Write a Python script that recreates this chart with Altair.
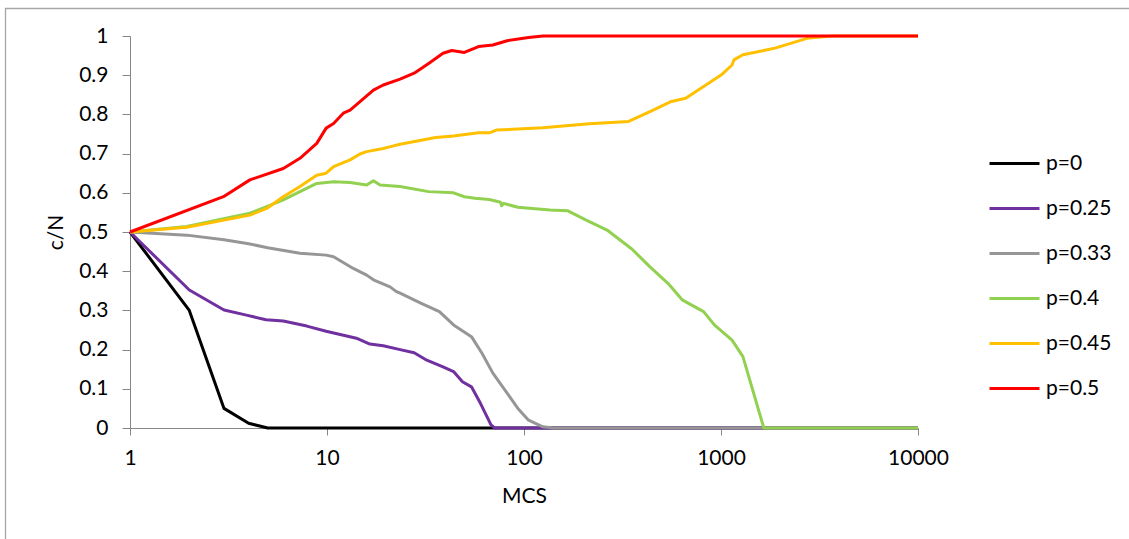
import altair as alt
import pandas as pd

# Series data (x = MCS, y = c/N)
p0_x = [1, 2, 3, 4, 5, 10000]
p0_y = [0.5, 0.3, 0.05, 0.012, 0, 0]

p025_x = [1, 2, 3, 3.9, 4.9, 6, 7.9, 9.9, 14.1, 16.5, 19.3, 23.5, 27.7, 32.1, 38.8,
          43.9, 48.7, 54.1, 60.1, 68, 71, 10000]
p025_y = [0.5, 0.352, 0.301, 0.288, 0.276, 0.273, 0.26, 0.247, 0.229, 0.214, 0.21, 0.2,
          0.192, 0.173, 0.156, 0.144, 0.118, 0.105, 0.063, 0.008, 0, 0]

p033_x = [1, 1.94, 3, 4, 5, 7.29, 9.9, 10.8, 13.6, 15.9, 17.2, 20.9, 22.5, 23.5, 30.1,
          37.2, 43.9, 54.1, 61.3, 69.5, 82.1, 93.1, 105.5, 124.7, 141, 10000]
p033_y = [0.5, 0.492, 0.48, 0.47, 0.46, 0.446, 0.441, 0.437, 0.407, 0.39, 0.378, 0.36,
          0.348, 0.344, 0.318, 0.297, 0.263, 0.233, 0.19, 0.14, 0.089, 0.05, 0.02, 0.003,
          0, 0]

p04_x = [1, 1.94, 4.06, 4.94, 6.0, 7.29, 8.87, 10.8, 13.1, 15.9, 17.2, 18.6, 23.5, 32.8,
         43.9, 49.8, 56.4, 66.7, 76, 77, 78.8, 93.1, 135.5, 167, 205.7, 264, 354, 436, 538,
         635, 816, 925, 1138, 1292, 1464, 1650, 10000]
p04_y = [0.5, 0.514, 0.548, 0.565, 0.582, 0.603, 0.624, 0.628, 0.626, 0.62, 0.631, 0.62,
         0.616, 0.603, 0.6, 0.59, 0.586, 0.583, 0.576, 0.567, 0.573, 0.563, 0.556, 0.554,
         0.531, 0.505, 0.456, 0.411, 0.369, 0.327, 0.297, 0.263, 0.224, 0.182, 0.089,
         0, 0]

p045_x = [1, 1.94, 4.06, 4.94, 6.0, 7.29, 8.87, 9.9, 10.8, 13.1, 14.7, 15.9, 19.3, 21.5,
          23.5, 35.6, 43.9, 58.8, 66.7, 72.4, 124.7, 214.6, 339.6, 436, 560, 662, 816,
          1005, 1138, 1163, 1292, 1880, 2735, 3664, 10000]
p045_y = [0.5, 0.512, 0.543, 0.56, 0.59, 0.616, 0.645, 0.65, 0.667, 0.684, 0.699, 0.705,
          0.713, 0.719, 0.724, 0.741, 0.745, 0.753, 0.753, 0.76, 0.766, 0.776, 0.782,
          0.807, 0.833, 0.841, 0.871, 0.901, 0.926, 0.939, 0.952, 0.969, 0.994, 1.0, 1.0]

p05_x = [1, 2.98, 4.06, 6.0, 7.29, 8.87, 9.9, 10.8, 12.1, 13.1, 17.2, 19.3, 23.5, 27.7,
         32.8, 38.8, 43.0, 49.8, 58.8, 69.5, 82.1, 105.5, 124.7, 10000]
p05_y = [0.5, 0.59, 0.633, 0.662, 0.688, 0.726, 0.765, 0.777, 0.803, 0.811, 0.862, 0.875,
         0.89, 0.905, 0.93, 0.956, 0.963, 0.958, 0.973, 0.977, 0.988, 0.996, 1.0, 1.0]

series_names = ["p=0", "p=0.25", "p=0.33", "p=0.4", "p=0.45", "p=0.5"]
series_colors = ["#000000", "#7030A0", "#969696", "#92D050", "#FFC000", "#FF0000"]
series_data = [(p0_x, p0_y), (p025_x, p025_y), (p033_x, p033_y),
               (p04_x, p04_y), (p045_x, p045_y), (p05_x, p05_y)]

x_ticks = [1, 10, 100, 1000, 10000]
y_ticks = [0, 0.1, 0.2, 0.3, 0.4, 0.5, 0.6, 0.7, 0.8, 0.9, 1]

rows = []
for name, (xs, ys) in zip(series_names, series_data):
    for i, (xv, yv) in enumerate(zip(xs, ys)):
        rows.append({"series": name, "MCS": xv, "cN": yv, "i": i})
df = pd.DataFrame(rows)

FONT = "Lato"
color = alt.Color("series:N",
                  scale=alt.Scale(domain=series_names, range=series_colors),
                  legend=alt.Legend(title=None, orient="none", legendX=858, legendY=101,
                                    symbolType="stroke", symbolSize=2500,
                                    symbolStrokeWidth=3, labelFont=FONT,
                                    labelFontSize=21, labelColor="#000000",
                                    labelOffset=5, rowPadding=8, symbolOpacity=1))

layers = []
# outer chart frame
frame = alt.Chart(pd.DataFrame({"a": [0]})).mark_rect(
    fillOpacity=0, stroke="#A6A6A6", strokeWidth=1.3
).encode(x=alt.value(-124.5), x2=alt.value(1010), y=alt.value(-27.5), y2=alt.value(520))
layers.append(frame)

for k, name in enumerate(series_names):
    layer = alt.Chart(df).transform_filter(alt.datum.series == name).mark_line(
        strokeWidth=3, strokeJoin="round", strokeCap="butt"
    ).encode(
        x=alt.X("MCS:Q", scale=alt.Scale(type="log", domain=[1, 10000], nice=False),
                axis=alt.Axis(title="MCS", values=x_ticks, format="d", grid=False,
                              domainColor="#868686", tickColor="#868686", tickSize=7,
                              labelFont=FONT, labelFontSize=21, labelColor="#000000",
                              labelPadding=12, titleFont=FONT, titleFontSize=21,
                              titleFontWeight="normal", titleColor="#000000",
                              titlePadding=17, labelFlush=False)),
        y=alt.Y("cN:Q", scale=alt.Scale(domain=[0, 1], nice=False),
                axis=alt.Axis(title="c/N", values=y_ticks, format="~g", grid=False,
                              domainColor="#868686", tickColor="#868686", tickSize=8,
                              labelFont=FONT, labelFontSize=21, labelColor="#000000",
                              labelPadding=14, titleFont=FONT, titleFontSize=21,
                              titleFontWeight="normal", titleColor="#000000",
                              titlePadding=12)),
        color=color,
        order="i:Q",
    )
    layers.append(layer)

chart = alt.layer(*layers).properties(
    width=788, height=392,
    autosize=alt.AutoSizeParams(type="none"),
    padding={"left": 130, "top": 36, "right": 211, "bottom": 111},
    background="#FFFFFF",
).configure_view(stroke=None)

chart.save("out.html", embed_options={"renderer": "svg", "actions": False})
